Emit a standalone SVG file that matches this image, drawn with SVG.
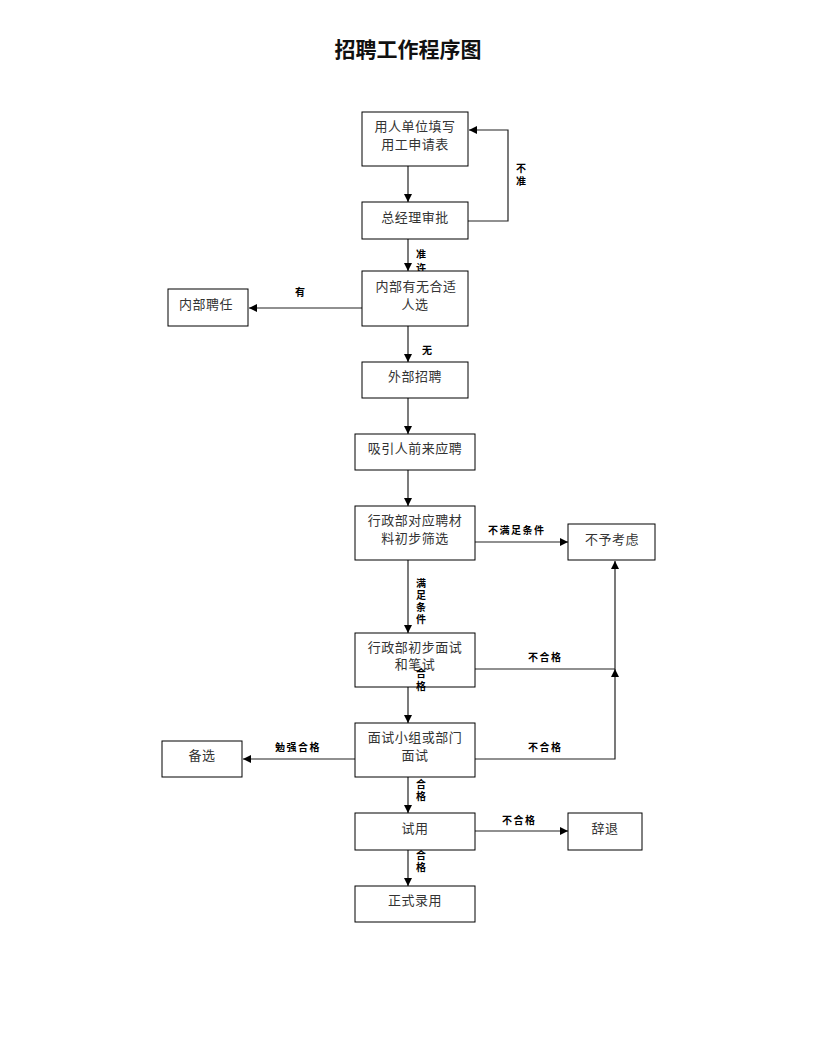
<svg xmlns="http://www.w3.org/2000/svg" width="816" height="1056" viewBox="0 0 816 1056">
<style>
.box{fill:#fff;stroke:#000;stroke-width:1}
.t{font-family:"Noto Sans CJK SC","Liberation Sans",sans-serif;font-size:13px;fill:#333;text-anchor:middle;letter-spacing:0.5px}
.lb{font-family:"Noto Sans CJK SC","Liberation Sans",sans-serif;font-size:10px;font-weight:bold;fill:#000;letter-spacing:1.5px}
.v{font-family:"Noto Sans CJK SC","Liberation Sans",sans-serif;font-size:10px;font-weight:bold;fill:#000;writing-mode:vertical-rl}
.c{fill:none;stroke:#222;stroke-width:1.2}
.title{font-family:"Noto Sans CJK SC","Liberation Sans",sans-serif;font-size:21px;font-weight:bold;fill:#111;text-anchor:middle}
</style>
<defs>
<marker id="ah" viewBox="0 0 10 10" refX="10" refY="5" markerWidth="8" markerHeight="8" markerUnits="userSpaceOnUse" orient="auto">
<path d="M0,0 L10,5 L0,10 z" fill="#000"/>
</marker>
</defs>
<rect width="816" height="1056" fill="#fff"/>
<text class="title" x="408" y="57">招聘工作程序图</text>

<g id="connectors">
<path class="c" d="M408,166 V202" marker-end="url(#ah)"/>
<path class="c" d="M468,221 H508 V130 H469" marker-end="url(#ah)"/>
<path class="c" d="M408,239 V271" marker-end="url(#ah)"/>
<path class="c" d="M362,308 H249" marker-end="url(#ah)"/>
<path class="c" d="M408,326 V362" marker-end="url(#ah)"/>
<path class="c" d="M408,398 V434" marker-end="url(#ah)"/>
<path class="c" d="M408,470 V506" marker-end="url(#ah)"/>
<path class="c" d="M475,542 H568" marker-end="url(#ah)"/>
<path class="c" d="M408,560 V633" marker-end="url(#ah)"/>
<path class="c" d="M475,669 H615 V561" marker-end="url(#ah)"/>
<path class="c" d="M475,759 H615 V669" marker-end="url(#ah)"/>
<path class="c" d="M408,687 V723" marker-end="url(#ah)"/>
<path class="c" d="M355,759 H243" marker-end="url(#ah)"/>
<path class="c" d="M408,777 V813" marker-end="url(#ah)"/>
<path class="c" d="M475,831 H568" marker-end="url(#ah)"/>
<path class="c" d="M408,850 V886" marker-end="url(#ah)"/>
<text class="v" x="521" y="163" style="letter-spacing:3px">不准</text>
<text class="v" x="421" y="249" style="letter-spacing:4px">准许</text>
<text class="lb" x="295" y="296">有</text>
<text class="lb" x="422" y="354">无</text>
<text class="lb" x="488" y="534">不满足条件</text>
<text class="v" x="421" y="578" style="letter-spacing:2px">满足条件</text>
<text class="lb" x="528" y="661">不合格</text>
<text class="lb" x="528" y="751">不合格</text>
<text class="lb" x="275" y="751">勉强合格</text>
<text class="v" x="421" y="779" style="letter-spacing:2px">合格</text>
<text class="lb" x="502" y="824">不合格</text>
<text class="v" x="421" y="850" style="letter-spacing:2px">合格</text>
</g>

<g id="n1"><rect class="box" x="362" y="112" width="106" height="54"/><text class="t" x="415" y="131">用人单位填写</text><text class="t" x="415" y="149">用工申请表</text></g>
<g id="n2"><rect class="box" x="362" y="202" width="106" height="37"/><text class="t" x="415" y="222">总经理审批</text></g>
<g id="n3"><rect class="box" x="362" y="271" width="106" height="55"/><text class="t" x="416" y="291">内部有无合适</text><text class="t" x="415" y="309">人选</text></g>
<g id="n4"><rect class="box" x="168" y="289" width="80" height="37"/><text class="t" x="206" y="309">内部聘任</text></g>
<g id="n5"><rect class="box" x="362" y="362" width="106" height="36"/><text class="t" x="415" y="381">外部招聘</text></g>
<g id="n6"><rect class="box" x="355" y="434" width="120" height="36"/><text class="t" x="415" y="453">吸引人前来应聘</text></g>
<g id="n7"><rect class="box" x="355" y="506" width="120" height="54"/><text class="t" x="415" y="525">行政部对应聘材</text><text class="t" x="415" y="543">料初步筛选</text></g>
<g id="n8"><rect class="box" x="568" y="524" width="87" height="36"/><text class="t" x="612" y="544">不予考虑</text></g>
<g id="n9"><rect class="box" x="355" y="633" width="120" height="54"/><text class="t" x="415" y="652">行政部初步面试</text><text class="t" x="415" y="669">和笔试</text></g>
<g id="n10"><rect class="box" x="355" y="723" width="120" height="54"/><text class="t" x="415" y="742">面试小组或部门</text><text class="t" x="415" y="760">面试</text></g>
<g id="n11"><rect class="box" x="162" y="741" width="80" height="36"/><text class="t" x="202" y="760">备选</text></g>
<g id="n12"><rect class="box" x="355" y="813" width="120" height="37"/><text class="t" x="415" y="833">试用</text></g>
<g id="n13"><rect class="box" x="568" y="813" width="74" height="37"/><text class="t" x="605" y="833">辞退</text></g>
<g id="n14"><rect class="box" x="355" y="886" width="120" height="36"/><text class="t" x="415" y="905">正式录用</text></g>
<g id="label-pass-1"><text class="v" x="421" y="668" style="letter-spacing:3px">合格</text></g>
</svg>
